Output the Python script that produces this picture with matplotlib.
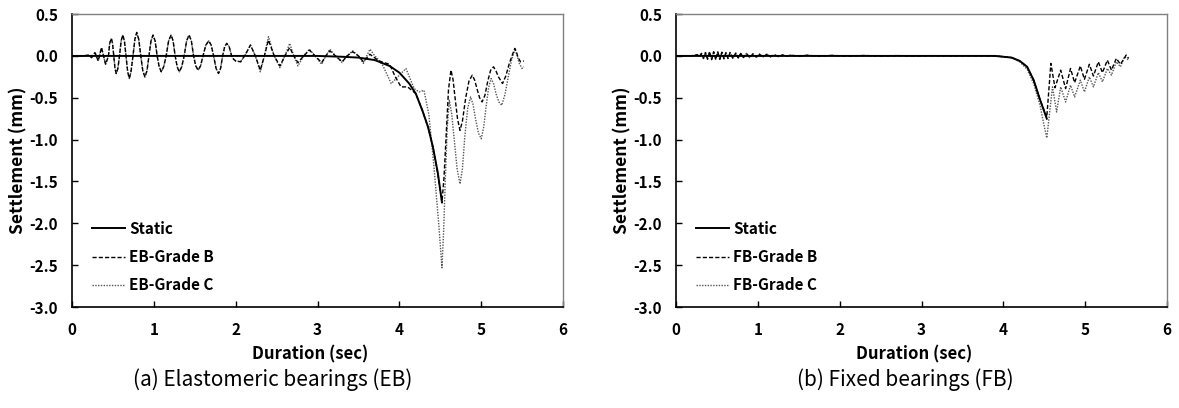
import matplotlib.pyplot as plt
import numpy as np

plt.rcParams["font.family"] = ["Noto Sans CJK KR", "DejaVu Sans"]

# ------------------------------------------
# Elastomeric bearings (EB)
# ------------------------------------------

eb_static_t = [0.0, 3.0, 3.3, 3.5, 3.7, 3.88, 4.0, 4.12, 4.2, 4.28,
               4.35, 4.41, 4.47, 4.52]
eb_static_v = [0.0, 0.0, -0.01, -0.02, -0.05, -0.12, -0.2, -0.33, -0.45, -0.65,
               -0.85, -1.09, -1.40, -1.75]

# early shaking, Grade B and Grade C lie on top of each other here
eb_early_t = [0.0, 0.14, 0.20, 0.24, 0.28, 0.32, 0.36, 0.41, 0.445, 0.46,
              0.48, 0.495, 0.51, 0.525, 0.54, 0.56, 0.58, 0.60, 0.62, 0.64,
              0.66, 0.68, 0.70, 0.72, 0.745, 0.768, 0.79, 0.815, 0.84, 0.865,
              0.89, 0.915, 0.94, 0.965, 0.99, 1.015, 1.04, 1.065, 1.09, 1.12,
              1.15, 1.18, 1.21, 1.235, 1.26, 1.285, 1.31, 1.34, 1.37, 1.40,
              1.43, 1.458, 1.485, 1.512, 1.54, 1.57, 1.60, 1.635, 1.67, 1.70,
              1.73, 1.76, 1.79, 1.815, 1.84, 1.865, 1.89, 1.92, 1.95, 1.975,
              2.00]
eb_early_v = [0.0, 0.0, 0.01, -0.02, 0.04, -0.06, 0.10, -0.10, 0.0, 0.15,
              0.21, 0.15, 0.0, -0.15, -0.21, -0.15, 0.0, 0.18, 0.25, 0.18,
              0.0, -0.19, -0.27, -0.19, 0.0, 0.20, 0.28, 0.20, 0.0, -0.18,
              -0.25, -0.18, 0.0, 0.18, 0.25, 0.18, 0.0, -0.13, -0.19, -0.13,
              0.0, 0.18, 0.25, 0.18, 0.0, -0.13, -0.19, -0.13, 0.0, 0.18,
              0.25, 0.18, 0.0, -0.12, -0.17, -0.12, 0.0, 0.13, 0.18, 0.13,
              0.0, -0.15, -0.21, -0.15, 0.0, 0.11, 0.15, 0.11, 0.0, -0.04,
              -0.06]

eb_b_t = [2.06, 2.12, 2.18, 2.24, 2.30, 2.35, 2.40, 2.47, 2.54, 2.60,
          2.66, 2.71, 2.76, 2.83, 2.90, 2.97, 3.05, 3.10, 3.15, 3.22,
          3.30, 3.36, 3.43, 3.50, 3.56, 3.64, 3.75, 3.88, 3.95, 4.02,
          4.10, 4.20, 4.28, 4.35, 4.41, 4.47, 4.52, 4.545, 4.57, 4.60,
          4.63, 4.655, 4.68, 4.71, 4.74, 4.77, 4.81, 4.85, 4.89, 4.92,
          4.95, 4.98, 5.01, 5.045, 5.08, 5.115, 5.15, 5.18, 5.21, 5.26,
          5.30, 5.34, 5.375, 5.41, 5.43, 5.45, 5.48, 5.52]
eb_b_v = [-0.07, 0.02, 0.13, 0.0, -0.17, 0.0, 0.19, 0.0, -0.12, 0.0,
          0.10, 0.0, -0.08, 0.0, 0.07, 0.0, -0.08, 0.0, 0.06, 0.0,
          -0.07, 0.0, 0.05, 0.0, -0.07, 0.02, -0.06, -0.10, -0.25, -0.37,
          -0.37, -0.45, -0.65, -0.85, -1.09, -1.42, -1.75, -1.45, -0.97, -0.40,
          -0.17, -0.28, -0.50, -0.75, -0.89, -0.78, -0.50, -0.30, -0.23, -0.29,
          -0.40, -0.50, -0.55, -0.47, -0.30, -0.17, -0.13, -0.18, -0.25, -0.33,
          -0.24, -0.10, 0.00, 0.09, 0.05, -0.02, -0.07, -0.06]

eb_c_t = [2.06, 2.12, 2.18, 2.24, 2.30, 2.35, 2.40, 2.47, 2.54, 2.60,
          2.66, 2.71, 2.76, 2.83, 2.90, 2.97, 3.05, 3.10, 3.15, 3.22,
          3.30, 3.36, 3.43, 3.50, 3.56, 3.60, 3.64, 3.70, 3.75, 3.80,
          3.90, 3.98, 4.08, 4.18, 4.24, 4.30, 4.36, 4.42, 4.48, 4.52,
          4.54, 4.56, 4.585, 4.61, 4.64, 4.67, 4.705, 4.74, 4.77, 4.80,
          4.835, 4.87, 4.90, 4.93, 4.965, 5.00, 5.03, 5.06, 5.09, 5.12,
          5.15, 5.18, 5.215, 5.25, 5.29, 5.33, 5.37, 5.41, 5.435, 5.46,
          5.50, 5.52]
eb_c_v = [-0.07, 0.02, 0.13, 0.0, -0.19, 0.0, 0.23, 0.0, -0.14, 0.0,
          0.15, 0.0, -0.12, 0.0, 0.08, 0.0, -0.10, 0.0, 0.08, 0.0,
          -0.08, 0.0, 0.06, 0.0, -0.09, 0.0, 0.08, 0.0, -0.05, -0.12,
          -0.33, -0.25, -0.15, -0.39, -0.43, -0.41, -0.70, -1.30, -2.00, -2.53,
          -2.10, -1.50, -0.85, -0.53, -0.70, -1.00, -1.35, -1.53, -1.35, -0.95,
          -0.62, -0.49, -0.58, -0.75, -0.92, -0.99, -0.85, -0.60, -0.38, -0.27,
          -0.33, -0.45, -0.55, -0.59, -0.46, -0.25, -0.05, 0.07, 0.02, -0.08,
          -0.15, -0.13]

# ------------------------------------------
# Fixed bearings (FB)
# ------------------------------------------

fb_static_t = [0.0, 3.9, 4.0, 4.1, 4.2, 4.29, 4.37, 4.45, 4.53]
fb_static_v = [0.0, 0.0, -0.01, -0.02, -0.06, -0.13, -0.29, -0.53, -0.75]

fb_early_t = [0.0, 0.16, 0.22, 0.26, 0.285, 0.31, 0.335, 0.36, 0.385, 0.41,
              0.435, 0.46, 0.485, 0.51, 0.535, 0.56, 0.585, 0.61, 0.635, 0.66,
              0.695, 0.73, 0.76, 0.79, 0.825, 0.86, 0.90, 0.94, 0.98, 1.02,
              1.065, 1.11, 1.155, 1.20, 1.25, 1.30, 1.35, 1.40, 1.50, 1.60,
              1.75, 1.90, 2.10, 2.30, 2.50, 2.70, 2.90, 3.10, 3.40, 3.70,
              3.90]
fb_early_v = [0.0, 0.0, 0.005, 0.015, -0.01, 0.03, -0.03, 0.04, -0.04, 0.05,
              -0.045, 0.05, -0.045, 0.05, -0.04, 0.045, -0.035, 0.04, -0.03, 0.04,
              -0.03, 0.035, -0.025, 0.03, -0.02, 0.03, -0.02, 0.025, -0.015, 0.02,
              -0.012, 0.02, -0.01, 0.015, -0.008, 0.012, -0.005, 0.01, -0.005, 0.008,
              -0.004, 0.006, -0.003, 0.005, -0.003, 0.004, -0.002, 0.003, 0.0, 0.002,
              0.0]

fb_b_t = [4.0, 4.1, 4.2, 4.29, 4.37, 4.45, 4.53, 4.58, 4.63, 4.70,
          4.76, 4.82, 4.87, 4.94, 4.99, 5.05, 5.10, 5.16, 5.21, 5.27,
          5.32, 5.38, 5.43, 5.50, 5.53]
fb_b_v = [-0.01, -0.02, -0.06, -0.13, -0.29, -0.53, -0.73, -0.09, -0.38, -0.17,
          -0.39, -0.15, -0.32, -0.12, -0.28, -0.10, -0.24, -0.07, -0.20, -0.05,
          -0.17, -0.03, -0.10, 0.01, -0.03]

fb_c_t = [4.0, 4.1, 4.2, 4.29, 4.37, 4.45, 4.49, 4.53, 4.60, 4.65,
          4.70, 4.76, 4.82, 4.87, 4.94, 4.99, 5.05, 5.10, 5.16, 5.21,
          5.27, 5.32, 5.38, 5.43, 5.48, 5.53]
fb_c_v = [-0.01, -0.02, -0.07, -0.16, -0.33, -0.60, -0.80, -0.98, -0.37, -0.67,
          -0.37, -0.55, -0.35, -0.49, -0.29, -0.43, -0.25, -0.37, -0.20, -0.31,
          -0.15, -0.23, -0.07, -0.13, -0.01, -0.05]

panels = [
    {
        "static": (eb_static_t, eb_static_v),
        "grade_b": (eb_early_t + eb_b_t, eb_early_v + eb_b_v),
        "grade_c": (eb_early_t + eb_c_t, eb_early_v + eb_c_v),
        "prefix": "EB",
        "caption": "(a) Elastomeric bearings (EB)",
        "caption_x": 0.2316,
    },
    {
        "static": (fb_static_t, fb_static_v),
        "grade_b": (fb_early_t + fb_b_t, fb_early_v + fb_b_v),
        "grade_c": (fb_early_t + fb_c_t, fb_early_v + fb_c_v),
        "prefix": "FB",
        "caption": "(b) Fixed bearings (FB)",
        "caption_x": 0.768,
    },
]

y_ticks = [0.5, 0.0, -0.5, -1.0, -1.5, -2.0, -2.5, -3.0]
x_ticks = [0, 1, 2, 3, 4, 5, 6]

fig = plt.figure(figsize=(11.79, 4.08), dpi=100)

axes_left = [0.0611, 0.5734]

for left, panel in zip(axes_left, panels):

    ax = fig.add_axes([left, 0.2475, 0.4165, 0.718])

    ax.plot(*panel["static"], color="black", lw=1.4, ls="-",
            label="Static", zorder=3)
    ax.plot(*panel["grade_b"], color="black", lw=1.0, ls=(0, (3, 1.5)),
            label=f"{panel['prefix']}-Grade B", zorder=2)
    ax.plot(*panel["grade_c"], color="#555555", lw=1.0, ls=(0, (1, 1)),
            label=f"{panel['prefix']}-Grade C", zorder=1)

    ax.set_xlim(0, 6)
    ax.set_ylim(-3.0, 0.5)
    ax.set_xticks(x_ticks)
    ax.set_yticks(y_ticks)
    ax.set_yticklabels([f"{v:.1f}" for v in y_ticks])

    ax.tick_params(direction="in", length=4, width=1, top=False, right=False,
                   labelsize=11)
    ax.tick_params(axis="y", pad=10)
    ax.tick_params(axis="x", pad=11)
    for label in ax.get_xticklabels() + ax.get_yticklabels():
        label.set_fontweight("bold")

    for side in ["left", "bottom"]:
        ax.spines[side].set_color("black")
        ax.spines[side].set_linewidth(1.2)
    for side in ["top", "right"]:
        ax.spines[side].set_color("#808080")
        ax.spines[side].set_linewidth(1.0)

    ax.set_xlabel("Duration (sec)", fontsize=12, fontweight="bold")
    ax.set_ylabel("Settlement (mm)", fontsize=12.5, fontweight="bold")
    ax.xaxis.set_label_coords(0.485, -0.13)
    ax.yaxis.set_label_coords(-0.09, 0.5)

    ax.legend(loc="lower left", bbox_to_anchor=(0.012, 0.0), frameon=False,
              prop={"weight": "bold", "size": 11},
              handlelength=2.2, handletextpad=0.27, labelspacing=0.8)

    fig.text(panel["caption_x"], 0.07, panel["caption"], ha="center",
             va="center", fontsize=15)

fig.savefig("out.png", dpi=100)
